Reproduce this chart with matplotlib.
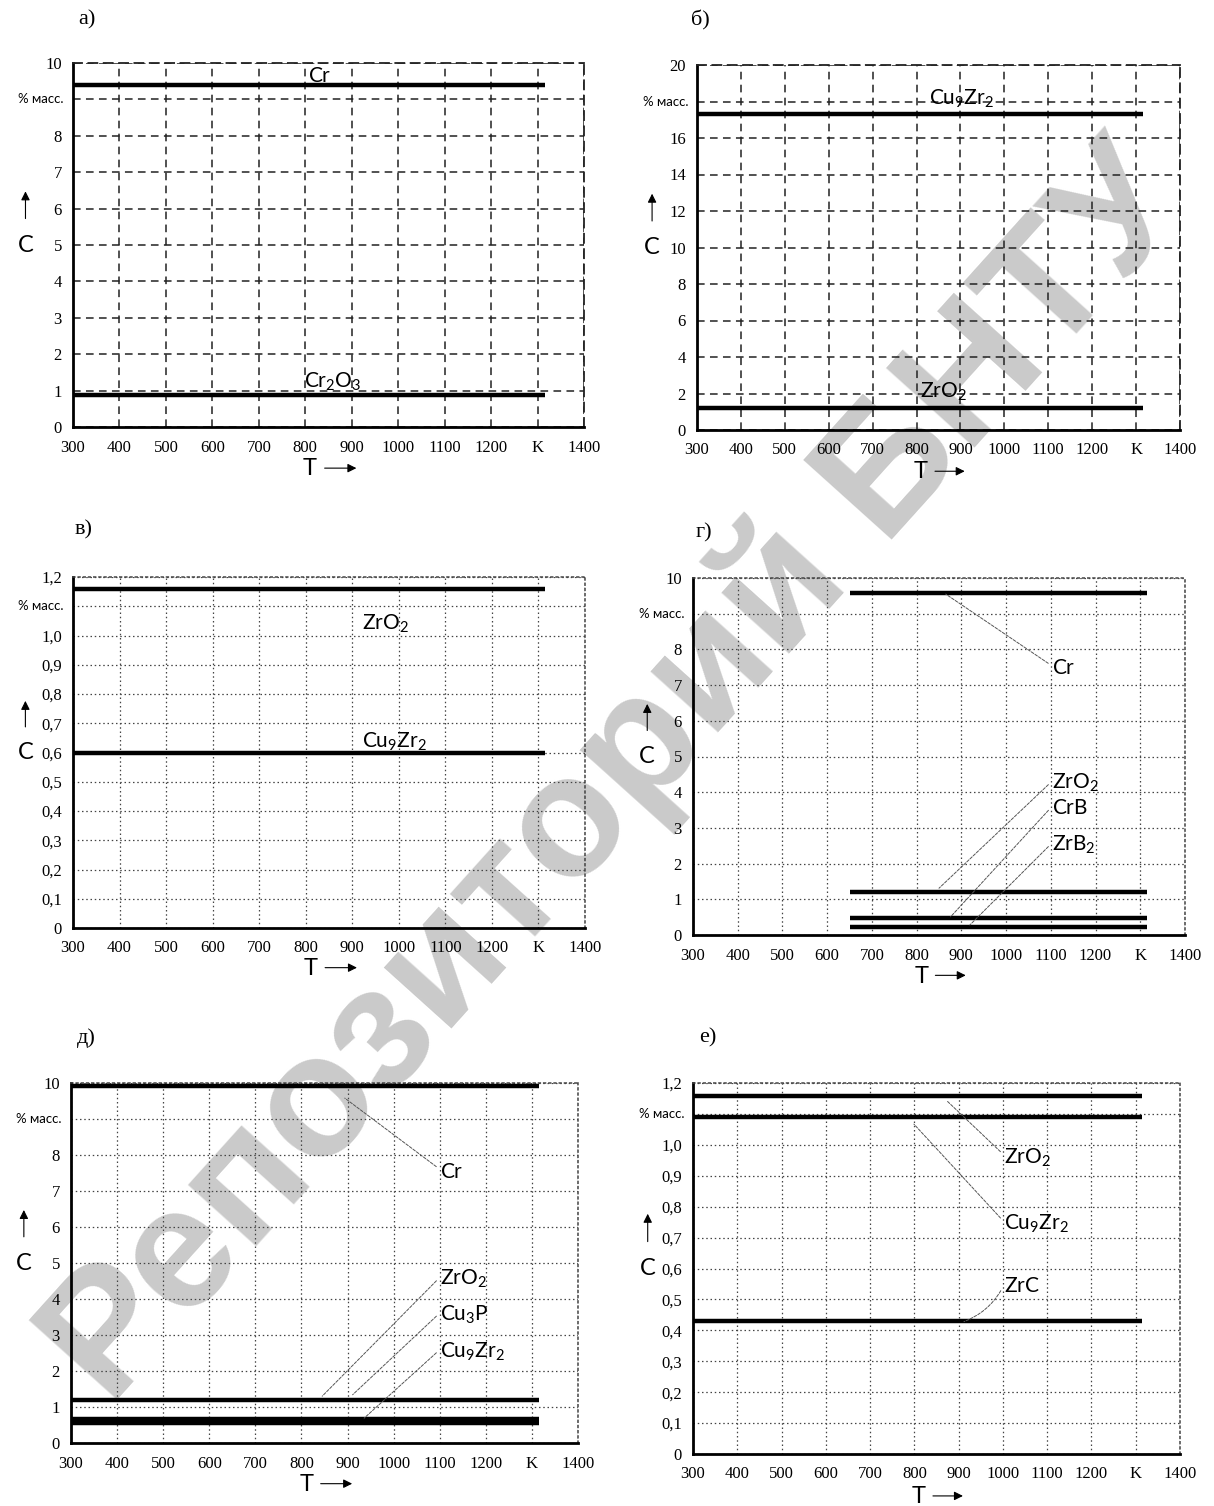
import matplotlib
matplotlib.use("Agg")
import matplotlib.pyplot as plt

plt.rcParams['mathtext.fontset'] = 'custom'
plt.rcParams['mathtext.rm'] = 'Lato'
plt.rcParams['mathtext.it'] = 'Lato:italic'
plt.rcParams['mathtext.bf'] = 'Lato:bold'

# ---------------- data ----------------
T_ticks = [300, 400, 500, 600, 700, 800, 900, 1000, 1100, 1200, 1300, 1400]
T_ticklabels = ['300', '400', '500', '600', '700', '800', '900', '1000', '1100', '1200', 'K', '1400']

T_span_full = [300, 1315]
T_span_g = [650, 1315]

# panel а)
a_names = [r'$\mathregular{Cr}$', r'$\mathregular{Cr_2O_3}$']
a_values = [9.4, 0.88]
# panel б)
b_names = [r'$\mathregular{Cu_9Zr_2}$', r'$\mathregular{ZrO_2}$']
b_values = [17.3, 1.18]
# panel в)
v_names = [r'$\mathregular{ZrO_2}$', r'$\mathregular{Cu_9Zr_2}$']
v_values = [1.16, 0.60]
# panel г)
g_names = [r'$\mathregular{Cr}$', r'$\mathregular{ZrO_2}$', r'$\mathregular{CrB}$', r'$\mathregular{ZrB_2}$']
g_values = [9.58, 1.20, 0.47, 0.23]
# panel д)
d_names = [r'$\mathregular{Cr}$', r'$\mathregular{ZrO_2}$', r'$\mathregular{Cu_3P}$', r'$\mathregular{Cu_9Zr_2}$']
d_values = [9.93, 1.20, 0.66, 0.55]
# panel е)
e_names = [r'$\mathregular{ZrO_2}$', r'$\mathregular{Cu_9Zr_2}$', r'$\mathregular{ZrC}$']
e_values = [1.159, 1.090, 0.43]

# y ticks
y10_ticks = [0, 1, 2, 3, 4, 5, 6, 7, 8, 9, 10]
y10_labels = ['0', '1', '2', '3', '4', '5', '6', '7', '8', '', '10']
y20_ticks = [0, 2, 4, 6, 8, 10, 12, 14, 16, 18, 20]
y20_labels = ['0', '2', '4', '6', '8', '10', '12', '14', '16', '', '20']
y12_ticks = [0, 0.1, 0.2, 0.3, 0.4, 0.5, 0.6, 0.7, 0.8, 0.9, 1.0, 1.1, 1.2]
y12_labels = ['0', '0,1', '0,2', '0,3', '0,4', '0,5', '0,6', '0,7', '0,8', '0,9', '1,0', '', '1,2']
unit_label = '% масс.'

# direct labels (panels а, б, в): text anchor (T, C)
a_label_pos = [(805, 9.47), (798, 1.08)]
b_label_pos = [(829, 17.85), (808, 1.75)]
v_label_pos = [(921, 1.02), (921, 0.615)]
# leader labels (panels г, д, е): text (T, C) and pointed point (T, C)
g_text = [(1103, 7.48), (1103, 4.25), (1103, 3.55), (1103, 2.52)]
g_point = [(865, 9.55), (850, 1.31), (876, 0.51), (919, 0.28)]
d_text = [(1101, 7.54), (1101, 4.55), (1101, 3.56), (1101, 2.54)]
d_point = [(894, 9.58), (845, 1.30), (911, 1.34), (936, 0.69)]
e_text = [(1003, 0.959), (1003, 0.743), (1003, 0.543)]
e_point = [(873, 1.143), (799, 1.067), (912, 0.428)]

panel_letters = ['а)', 'б)', 'в)', 'г)', 'д)', 'е)']

# ---------------- figure ----------------
W, H = 1214, 1506
fig = plt.figure(figsize=(W / 100, H / 100), dpi=100)


def rect(x0, x1, y0, y1):
    return [x0 / W, 1 - y1 / H, (x1 - x0) / W, (y1 - y0) / H]


rects = [rect(73, 584, 63, 427), rect(697, 1180, 65, 430),
         rect(73, 585, 577, 928), rect(693, 1185, 578, 935),
         rect(71, 578, 1083, 1443), rect(693, 1180, 1083, 1454)]
letter_pos = [(87, 20), (700, 20), (84, 530), (704, 533), (86, 1038), (708, 1038)]

NUMFONT = 'Liberation Serif'
LBLFONT = 'Lato'

dashed = dict(ls=(0, (5, 3.5)), color='#222222', lw=1.1)
dotted = dict(ls=(0, (1.2, 2.2)), color='#444444', lw=0.9)


def setup(ax, yticks, ylabels, ymax, unit_y, gstyle):
    ax.set_facecolor('none')
    ax.set_xlim(300, 1400)
    ax.set_ylim(0, ymax)
    ax.set_xticks(T_ticks)
    ax.set_xticklabels(T_ticklabels, fontfamily=NUMFONT, fontsize=12)
    ax.set_yticks(yticks)
    ax.set_yticklabels(ylabels, fontfamily=NUMFONT, fontsize=12)
    ax.tick_params(axis='both', length=0)
    ax.tick_params(axis='x', pad=9)
    ax.tick_params(axis='y', pad=8)
    ax.grid(True, **gstyle)
    ax.set_axisbelow(True)
    for s in ['left', 'bottom']:
        ax.spines[s].set_linewidth(2.0)
        ax.spines[s].set_color('black')
    for s in ['top', 'right']:
        ax.spines[s].set_linestyle(gstyle['ls'])
        ax.spines[s].set_color(gstyle['color'])
        ax.spines[s].set_linewidth(gstyle['lw'] + 0.2)
    ax.text(-0.018, unit_y, unit_label, transform=ax.get_yaxis_transform(),
            ha='right', va='center', fontfamily=LBLFONT, fontsize=9.5)
    # axis names with arrows
    ax.text(-0.093, 0.5, 'C', transform=ax.transAxes, ha='center', va='center',
            fontfamily=LBLFONT, fontsize=17)
    ax.annotate('', xy=(-0.093, 0.655), xytext=(-0.093, 0.565), xycoords='axes fraction',
                arrowprops=dict(arrowstyle='-|>', color='black', lw=0.8, mutation_scale=13),
                annotation_clip=False)
    ax.text(0.464, -0.115, 'T', transform=ax.transAxes, ha='center', va='center',
            fontfamily=LBLFONT, fontsize=17)
    ax.annotate('', xy=(0.56, -0.113), xytext=(0.487, -0.113), xycoords='axes fraction',
                arrowprops=dict(arrowstyle='-|>', color='black', lw=0.8, mutation_scale=13),
                annotation_clip=False)


def hlines(ax, span, values):
    for v in values:
        ax.plot(span, [v, v], color='black', lw=3.2, solid_capstyle='butt', zorder=3)


def direct_labels(ax, names, pos):
    for n, (x, y) in zip(names, pos):
        ax.text(x, y, n, ha='left', va='baseline', fontfamily=LBLFONT, fontsize=15, zorder=4)


def leader_labels(ax, names, tpos, ppos, rads=None):
    for i, (n, t, p) in enumerate(zip(names, tpos, ppos)):
        rad = 0 if rads is None else rads[i]
        ax.annotate(n, xy=p, xytext=t, xycoords='data', textcoords='data',
                    ha='left', va='center', fontfamily=LBLFONT, fontsize=15,
                    arrowprops=dict(arrowstyle='-', color='#555555', lw=0.7,
                                    ls=(0, (3, 1.5)), shrinkA=1, shrinkB=0,
                                    relpos=(0, 0.6),
                                    connectionstyle='arc3,rad=%s' % rad),
                    zorder=4)


axes = [fig.add_axes(r) for r in rects]

# а)
ax = axes[0]
setup(ax, y10_ticks, y10_labels, 10, 9, dashed)
hlines(ax, T_span_full, a_values)
direct_labels(ax, a_names, a_label_pos)
# б)
ax = axes[1]
setup(ax, y20_ticks, y20_labels, 20, 18, dashed)
hlines(ax, T_span_full, b_values)
direct_labels(ax, b_names, b_label_pos)
# в)
ax = axes[2]
setup(ax, y12_ticks, y12_labels, 1.2, 1.1, dotted)
hlines(ax, T_span_full, v_values)
direct_labels(ax, v_names, v_label_pos)
# г)
ax = axes[3]
setup(ax, y10_ticks, y10_labels, 10, 9, dotted)
hlines(ax, T_span_g, g_values)
leader_labels(ax, g_names, g_text, g_point)
# д)
ax = axes[4]
setup(ax, y10_ticks, y10_labels, 10, 9, dotted)
hlines(ax, T_span_full, d_values)
leader_labels(ax, d_names, d_text, d_point)
# е)
ax = axes[5]
setup(ax, y12_ticks, y12_labels, 1.2, 1.1, dotted)
hlines(ax, T_span_full, e_values)
leader_labels(ax, e_names, e_text, e_point, rads=[0, 0, -0.2])

for letter, (x, y) in zip(panel_letters, letter_pos):
    fig.text(x / W, 1 - y / H, letter, ha='center', va='center',
             fontfamily=NUMFONT, fontsize=16)

# watermark (behind the charts)
fig.text(0.508, 0.485, 'Репозиторий БНТУ', rotation=48, ha='center', va='center',
         rotation_mode='anchor', fontfamily='Liberation Sans', fontweight='bold',
         fontsize=124, color='#cacaca', zorder=-1)

fig.savefig('out.png', dpi=100)
